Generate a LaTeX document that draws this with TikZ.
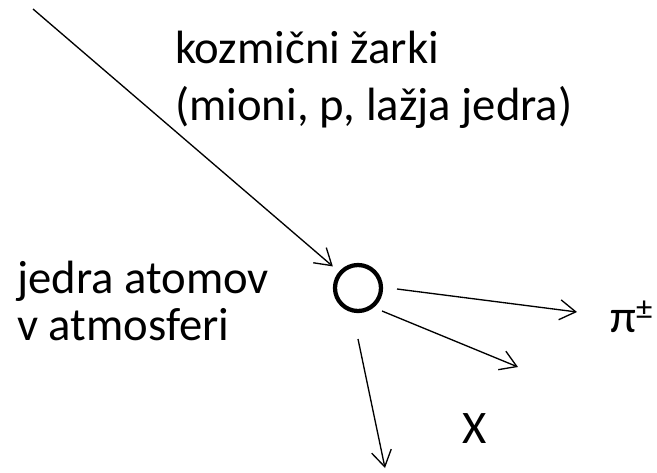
\documentclass[tikz,border=0pt]{standalone}
\usepackage{fontspec}
\setmainfont{Carlito}
\usetikzlibrary{arrows.meta}
\tikzset{
  lbl/.style={anchor=base west, inner sep=0pt, font=\fontsize{35}{42}\selectfont},
  arr/.style={line width=1pt, -{Straight Barb[length=12pt,width=15pt,line width=1pt]}},
  nucleus/.style={circle, draw, line width=3.2pt, minimum size=34.5pt, inner sep=0pt}
}
\begin{document}
\begin{tikzpicture}[x=0.75pt,y=-0.75pt]
\useasboundingbox (0,0) rectangle (657,472);
\node[nucleus] (c) at (358,288) {};
\coordinate (src) at (33,9);
\coordinate (s1) at (397,289);
\coordinate (e1) at (577,312);
\coordinate (s2) at (382,311);
\coordinate (e2) at (518,367);
\coordinate (s3) at (358,339);
\coordinate (e3) at (385,468);
\draw[arr, shorten >=6pt] (src) -- (c);
\draw[arr] (s1) -- (e1);
\draw[arr] (s2) -- (e2);
\draw[arr] (s3) -- (e3);
\node[lbl] (t1) at (175,63) {kozmični žarki};
\node[lbl] (t2) at (175,120) {(mioni, p, lažja jedra)};
\node[lbl] (t3) at (17,293) {jedra atomov};
\node[lbl] (t4) at (17,340) {v atmosferi};
\node[lbl] (pi) at (610,332) {π\textsuperscript{±}};
\node[lbl] (x) at (462,443) {X};
\end{tikzpicture}
\end{document}
